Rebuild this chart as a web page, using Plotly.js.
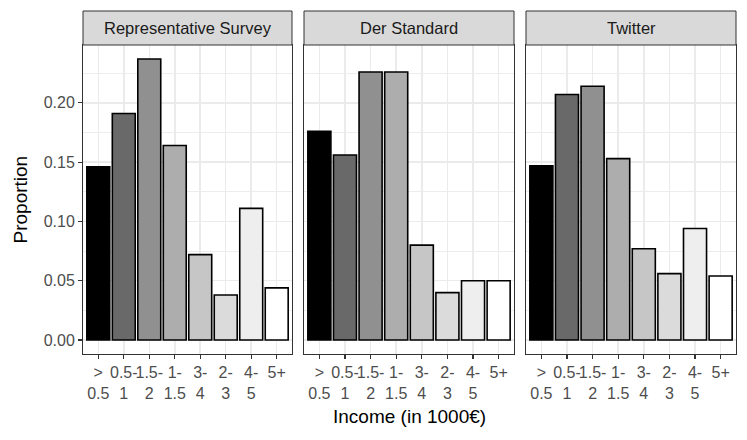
<!DOCTYPE html>
<html><head><meta charset="utf-8">
<script src="https://cdn.plot.ly/plotly-3.0.1.min.js"></script>
<style>body{margin:0;background:#fff}#c{width:747px;height:440px}</style>
</head><body><div id="c"></div>
<script>
const categories = ["> 0.5","0.5-1","1.5-2","1-1.5","3-4","2-3","4-5","5+"];
const tickLabels = ["&gt;<br>0.5","0.5-<br>1","1.5-<br>2","1-<br>1.5","3-<br>4","2-<br>3","4-<br>5","5+<br> "];
const panels = ["Representative Survey","Der Standard","Twitter"];
const survey = [0.146,0.191,0.237,0.164,0.072,0.038,0.111,0.044];
const standard = [0.176,0.156,0.226,0.226,0.080,0.040,0.050,0.050];
const twitter = [0.147,0.207,0.214,0.153,0.077,0.056,0.094,0.054];
const fills = ["#000000","#696969","#909090","#adadad","#c6c6c6","#dbdbdb","#eeeeee","#ffffff"];

const series = [survey, standard, twitter];
const W = 747, H = 440;
const xdom = [[83/W,292/W],[304/W,514/W],[526/W,736/W]];
const ybot = 1-354/H, ytop = 1-45/H, stripTop = 1-11/H;
const font = "Liberation Sans, Arial, Helvetica, sans-serif";

const data = series.map((vals,i)=>({
  type:'bar', x:categories, y:vals,
  xaxis: i===0?'x':'x'+(i+1), yaxis: i===0?'y':'y'+(i+1),
  width:0.9,
  marker:{color:fills, line:{color:'#000000', width:1.6}},
  hoverinfo:'x+y', showlegend:false
}));

const layout = {
  width:W, height:H, margin:{l:0,r:0,t:0,b:0},
  paper_bgcolor:'#ffffff', plot_bgcolor:'#ffffff',
  font:{family:font, color:'#4d4d4d', size:16},
  bargap:0, shapes:[], annotations:[]
};
for(let i=0;i<3;i++){
  const sx = i===0?'':String(i+1);
  layout['xaxis'+sx] = {
    domain:xdom[i], anchor:'y'+sx, type:'category',
    range:[-0.6,7.6], tickmode:'array', tickvals:categories, ticktext:tickLabels,
    showgrid:true, gridcolor:'#ebebeb', gridwidth:1.5,
    showline:true, mirror:true, linecolor:'#333333', linewidth:1,
    ticks:'outside', ticklen:4, tickwidth:1.1, tickcolor:'#333333',
    tickfont:{family:font, size:16, color:'#4d4d4d'}, tickangle:0,
    zeroline:false, fixedrange:true
  };
  layout['yaxis'+sx] = {
    domain:[ybot,ytop], anchor:'x'+sx,
    range:[-0.0118,0.2488], tickmode:'array', tickvals:[0,0.05,0.1,0.15,0.2],
    ticktext:['0.00','0.05','0.10','0.15','0.20'],
    showticklabels:i===0, ticks:i===0?'outside':'', ticklen:4, tickwidth:1.1, tickcolor:'#333333',
    tickfont:{family:font, size:16, color:'#4d4d4d'},
    showgrid:true, gridcolor:'#ebebeb', gridwidth:1.5,
    minor:{tickvals:[0.025,0.075,0.125,0.175,0.225], showgrid:true, gridcolor:'#ebebeb', gridwidth:0.9},
    showline:true, mirror:true, linecolor:'#333333', linewidth:1,
    zeroline:false, fixedrange:true
  };
  layout.shapes.push({type:'rect', xref:'paper', yref:'paper',
    x0:xdom[i][0], x1:xdom[i][1], y0:ytop, y1:stripTop,
    fillcolor:'#d9d9d9', line:{color:'#333333', width:1}});
  layout.annotations.push({xref:'paper', yref:'paper', x:(xdom[i][0]+xdom[i][1])/2,
    y:(ytop+stripTop)/2, text:panels[i], showarrow:false, xanchor:'center', yanchor:'middle',
    font:{family:font, size:16.5, color:'#1a1a1a'}});
}
layout.annotations.push({xref:'paper', yref:'paper', x:(83+736)/2/W, y:1-416/H,
  text:'Income (in 1000€)', showarrow:false, xanchor:'center', yanchor:'middle',
  font:{family:font, size:19, color:'#000000'}});
layout.annotations.push({xref:'paper', yref:'paper', x:20/W, y:1-199.5/H,
  text:'Proportion', showarrow:false, textangle:-90, xanchor:'center', yanchor:'middle',
  font:{family:font, size:19, color:'#000000'}});

Plotly.newPlot('c', data, layout, {displayModeBar:false, staticPlot:true});
</script></body></html>
